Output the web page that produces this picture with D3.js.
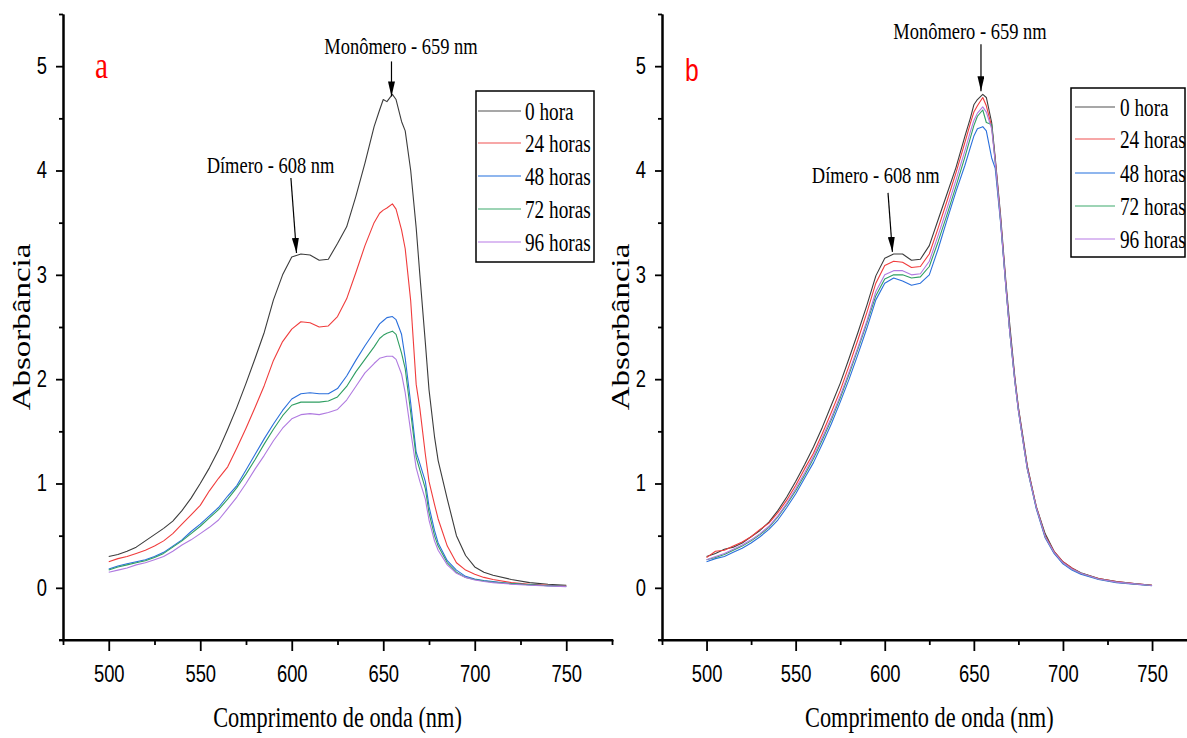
<!DOCTYPE html>
<html>
<head>
<meta charset="utf-8">
<script src="https://cdn.jsdelivr.net/npm/d3@7"></script>
<style>
  body { margin: 0; background: #fff; }
</style>
</head>
<body>
<svg id="chart" width="1187" height="738"></svg>
<script>
// wavelength grid (nm), shared by every series
const wavelength = [500,505,510,515,520,525,530,535,540,545,550,555,560,565,570,575,580,585,590,595,
  600,605,610,615,620,625,630,635,640,645,648,650,652,655,657,660,662,665,668,670,673,675,678,680,
  685,690,695,700,705,710,720,730,740,750];

// panel a
const a_h0 = [0.30,0.32,0.35,0.39,0.45,0.51,0.57,0.64,0.74,0.86,1.00,1.15,1.32,1.52,1.73,1.96,2.20,2.45,2.76,3.00,
  3.17,3.20,3.19,3.14,3.15,3.30,3.46,3.75,4.07,4.42,4.58,4.68,4.66,4.73,4.68,4.47,4.38,4.00,3.45,3.00,2.35,1.90,1.45,1.22,
  0.85,0.50,0.31,0.20,0.15,0.12,0.08,0.05,0.035,0.025];
const a_h24 = [0.25,0.28,0.30,0.33,0.36,0.40,0.45,0.52,0.61,0.70,0.79,0.93,1.05,1.16,1.34,1.53,1.73,1.94,2.18,2.36,
  2.48,2.55,2.54,2.50,2.51,2.60,2.77,3.02,3.28,3.50,3.59,3.62,3.64,3.68,3.63,3.43,3.25,2.75,1.95,1.72,1.28,1.02,0.80,0.66,
  0.40,0.24,0.17,0.13,0.10,0.08,0.05,0.035,0.025,0.02];
const a_h48 = [0.18,0.21,0.23,0.25,0.27,0.30,0.34,0.40,0.46,0.54,0.61,0.69,0.77,0.88,0.98,1.13,1.28,1.43,1.57,1.70,
  1.81,1.86,1.87,1.86,1.86,1.91,2.03,2.18,2.32,2.45,2.53,2.56,2.59,2.60,2.57,2.43,2.20,1.77,1.30,1.19,1.02,0.78,0.55,0.43,
  0.26,0.17,0.11,0.085,0.07,0.06,0.04,0.03,0.02,0.015];
const a_h72 = [0.17,0.20,0.22,0.24,0.26,0.29,0.33,0.39,0.45,0.52,0.59,0.67,0.75,0.85,0.96,1.09,1.23,1.38,1.52,1.65,
  1.75,1.78,1.78,1.78,1.79,1.83,1.93,2.07,2.19,2.31,2.39,2.42,2.44,2.46,2.43,2.25,2.10,1.68,1.25,1.13,0.95,0.72,0.50,0.40,
  0.24,0.15,0.10,0.08,0.065,0.055,0.04,0.03,0.02,0.015];
const a_h96 = [0.15,0.17,0.19,0.22,0.24,0.27,0.30,0.35,0.41,0.46,0.52,0.58,0.65,0.76,0.87,1.00,1.14,1.27,1.41,1.53,
  1.62,1.66,1.67,1.66,1.68,1.71,1.80,1.93,2.06,2.15,2.20,2.21,2.22,2.22,2.19,2.05,1.87,1.50,1.15,1.02,0.85,0.65,0.45,0.36,
  0.22,0.14,0.10,0.075,0.06,0.05,0.035,0.025,0.018,0.012];

// panel b
const b_h0 = [0.30,0.33,0.37,0.39,0.43,0.49,0.55,0.63,0.74,0.87,1.02,1.18,1.35,1.54,1.75,1.96,2.20,2.45,2.71,2.99,
  3.16,3.20,3.20,3.14,3.15,3.28,3.53,3.78,4.03,4.33,4.50,4.63,4.68,4.73,4.70,4.46,4.12,3.57,2.93,2.55,2.02,1.73,1.40,1.17,
  0.78,0.52,0.35,0.25,0.19,0.145,0.09,0.06,0.04,0.025];
const b_h24 = [0.29,0.35,0.36,0.40,0.44,0.49,0.56,0.62,0.72,0.84,0.98,1.14,1.29,1.48,1.68,1.89,2.13,2.38,2.64,2.92,
  3.09,3.13,3.12,3.07,3.08,3.20,3.45,3.71,3.98,4.27,4.45,4.56,4.62,4.70,4.62,4.42,4.10,3.54,2.90,2.50,2.00,1.72,1.38,1.16,
  0.78,0.50,0.35,0.25,0.19,0.14,0.09,0.06,0.04,0.025];
const b_h48 = [0.25,0.28,0.30,0.34,0.38,0.43,0.49,0.56,0.65,0.77,0.90,1.05,1.20,1.38,1.57,1.78,2.00,2.24,2.49,2.76,
  2.92,2.97,2.94,2.90,2.92,3.00,3.25,3.53,3.80,4.05,4.22,4.33,4.40,4.42,4.38,4.12,4.02,3.50,2.88,2.48,1.98,1.70,1.36,1.14,
  0.76,0.48,0.33,0.23,0.17,0.13,0.08,0.05,0.035,0.02];
const b_h72 = [0.27,0.29,0.32,0.36,0.40,0.45,0.51,0.58,0.68,0.80,0.93,1.08,1.24,1.42,1.61,1.82,2.05,2.29,2.54,2.80,
  2.96,3.00,3.00,2.97,2.98,3.08,3.32,3.58,3.85,4.13,4.31,4.43,4.52,4.58,4.46,4.44,4.08,3.52,2.88,2.48,1.98,1.70,1.36,1.14,
  0.77,0.49,0.34,0.24,0.18,0.14,0.085,0.055,0.038,0.022];
const b_h96 = [0.27,0.30,0.33,0.37,0.41,0.46,0.52,0.59,0.69,0.81,0.95,1.10,1.26,1.44,1.63,1.84,2.07,2.31,2.56,2.84,
  3.00,3.04,3.04,3.00,3.01,3.13,3.38,3.64,3.91,4.19,4.37,4.48,4.55,4.61,4.56,4.40,4.08,3.52,2.88,2.48,1.98,1.70,1.36,1.14,
  0.77,0.49,0.34,0.24,0.18,0.14,0.085,0.055,0.038,0.022];

const seriesLabels = ["0 hora", "24 horas", "48 horas", "72 horas", "96 horas"];
const seriesColors = ["#3c3c3c", "#f03c3c", "#2a6fdc", "#2f9e62", "#b07ae0"];
const legendColors = ["#8a8a8a", "#f48a8a", "#6a9ee8", "#7cc69c", "#cfa6ee"];

const xTicksMajor = [500, 550, 600, 650, 700, 750];
const xTicksMinor = [475, 525, 575, 625, 675, 725, 775];
const yTicksMajor = [0, 1, 2, 3, 4, 5];
const yTicksMinor = [-0.5, 0.5, 1.5, 2.5, 3.5, 4.5, 5.5];

const serif = "'Liberation Serif', 'Times New Roman', serif";
const sans = "'Liberation Sans', Arial, sans-serif";
const SQ = 0.77;   // the original figure is horizontally squeezed

const panels = [
  { label: "a", labelFont: serif, labelSize: 38, labelPos: [95, 78],
    left: 63, right: 612, series: [a_h0, a_h24, a_h48, a_h72, a_h96],
    titleX: 30, legend: { x: 476, y: 91, w: 118, h: 171, line: [2, 45], text: 49, rows: [20, 52, 85, 118, 151] },
    notes: [
      { text: "Monômero - 659 nm", at: [654.5, 4.71], tail: [0, -35], txt: [9.5, -42] },
      { text: "Dímero - 608 nm", at: [602.6, 3.21], tail: [-5.6, -75], txt: [-26, -80] }
    ] },
  { label: "b", labelFont: sans, labelSize: 32, labelPos: [685, 81],
    left: 662, right: 1196.6, series: [b_h0, b_h24, b_h48, b_h72, b_h96],
    titleX: 629, legend: { x: 1071, y: 88, w: 114, h: 169, line: [4, 44], text: 49, rows: [19, 51, 85, 118, 151] },
    notes: [
      { text: "Monômero - 659 nm", at: [654.0, 4.76], tail: [0, -47], txt: [-11, -52.7] },
      { text: "Dímero - 608 nm", at: [604.3, 3.22], tail: [-4.4, -59], txt: [-16.7, -68.7] }
    ] }
];

const plotTop = 14, plotBottom = 640;
const svg = d3.select("#chart");

svg.append("defs").append("marker")
  .attr("id", "arrow")
  .attr("viewBox", "0 0 10 10")
  .attr("refX", 10).attr("refY", 5)
  .attr("markerWidth", 15).attr("markerHeight", 7)
  .attr("markerUnits", "userSpaceOnUse")
  .attr("orient", "auto")
  .attr("preserveAspectRatio", "none")
  .append("path").attr("d", "M0,0 L10,5 L0,10 Z").attr("fill", "#000");

function squeeze(sel, k) {
  sel.each(function () {
    const t = d3.select(this);
    const x = +t.attr("x") || 0, y = +t.attr("y") || 0;
    t.attr("x", 0).attr("y", 0).attr("transform", `translate(${x},${y}) scale(${k},1)`);
  });
}

panels.forEach(p => {
  const x = d3.scaleLinear().domain([475, 775]).range([p.left, p.right]);
  const y = d3.scaleLinear().domain([-0.5, 5.5]).range([plotBottom, plotTop]);
  const g = svg.append("g");

  // curves
  const line = d3.line().x((d, i) => x(wavelength[i])).y(d => y(d));
  p.series.forEach((s, i) => {
    g.append("path")
      .datum(s)
      .attr("d", line)
      .attr("fill", "none")
      .attr("stroke", seriesColors[i])
      .attr("stroke-width", 1.1)
      .attr("stroke-linejoin", "round");
  });

  // x axis
  const xMinor = g.append("g").attr("transform", `translate(0,${plotBottom})`)
    .call(d3.axisBottom(x).tickValues(xTicksMinor).tickSize(5).tickSizeOuter(0).tickFormat(""));
  const xMajor = g.append("g").attr("transform", `translate(0,${plotBottom})`)
    .call(d3.axisBottom(x).tickValues(xTicksMajor).tickSize(11).tickSizeOuter(0).tickPadding(15));
  [xMinor, xMajor].forEach(a => {
    a.select(".domain").attr("stroke-width", 2).attr("stroke-linecap", "square");
    a.selectAll(".tick line").attr("stroke-width", 1.8);
  });
  xMajor.selectAll(".tick text").attr("font-family", sans).attr("font-size", 23).attr("fill", "#000")
    .call(squeeze, 0.8);
  xMajor.select(".domain").attr("d", `M${p.left - 3},0H${p.right}`);

  // y axis
  const yMinor = g.append("g").attr("transform", `translate(${p.left},0)`)
    .call(d3.axisLeft(y).tickValues(yTicksMinor).tickSize(4).tickSizeOuter(0).tickFormat(""));
  const yMajor = g.append("g").attr("transform", `translate(${p.left},0)`)
    .call(d3.axisLeft(y).tickValues(yTicksMajor).tickSize(7).tickSizeOuter(0).tickPadding(9)
      .tickFormat(d3.format("d")));
  [yMinor, yMajor].forEach(a => {
    a.select(".domain").attr("stroke-width", 2);
    a.selectAll(".tick line").attr("stroke-width", 1.8);
  });
  yMajor.selectAll(".tick text").attr("font-family", sans).attr("font-size", 23).attr("fill", "#000")
    .call(squeeze, 0.8);

  // axis titles
  g.append("text")
    .attr("x", (p.left + p.right) / 2).attr("y", 727)
    .attr("text-anchor", "middle")
    .attr("font-family", serif).attr("font-size", 29)
    .text("Comprimento de onda (nm)")
    .call(squeeze, SQ);
  g.append("text")
    .attr("transform", `translate(${p.titleX},${(plotTop + plotBottom) / 2}) rotate(-90) scale(1,${SQ})`)
    .attr("text-anchor", "middle")
    .attr("font-family", serif).attr("font-size", 33)
    .text("Absorbância");

  // panel letter
  g.append("text")
    .attr("x", p.labelPos[0]).attr("y", p.labelPos[1])
    .attr("font-family", p.labelFont).attr("font-size", p.labelSize)
    .attr("fill", "#ff0000")
    .text(p.label)
    .call(squeeze, SQ);

  // annotations
  p.notes.forEach(n => {
    const tx = x(n.at[0]), ty = y(n.at[1]);
    g.append("line")
      .attr("x1", tx + n.tail[0]).attr("y1", ty + n.tail[1])
      .attr("x2", tx).attr("y2", ty)
      .attr("stroke", "#000").attr("stroke-width", 1.2)
      .attr("marker-end", "url(#arrow)");
    g.append("text")
      .attr("x", tx + n.txt[0]).attr("y", ty + n.txt[1])
      .attr("text-anchor", "middle")
      .attr("font-family", serif).attr("font-size", 24)
      .text(n.text)
      .call(squeeze, SQ);
  });

  // legend
  const L = p.legend;
  const lg = g.append("g").attr("transform", `translate(${L.x},${L.y})`);
  lg.append("rect").attr("width", L.w).attr("height", L.h)
    .attr("fill", "#fff").attr("stroke", "#000").attr("stroke-width", 1.5);
  seriesLabels.forEach((name, i) => {
    lg.append("line")
      .attr("x1", L.line[0]).attr("x2", L.line[1])
      .attr("y1", L.rows[i]).attr("y2", L.rows[i])
      .attr("stroke", legendColors[i]).attr("stroke-width", 1.6);
    lg.append("text")
      .attr("x", L.text).attr("y", L.rows[i] + 8.5)
      .attr("font-family", serif).attr("font-size", 25)
      .text(name)
      .call(squeeze, SQ);
  });
});
</script>
</body>
</html>
